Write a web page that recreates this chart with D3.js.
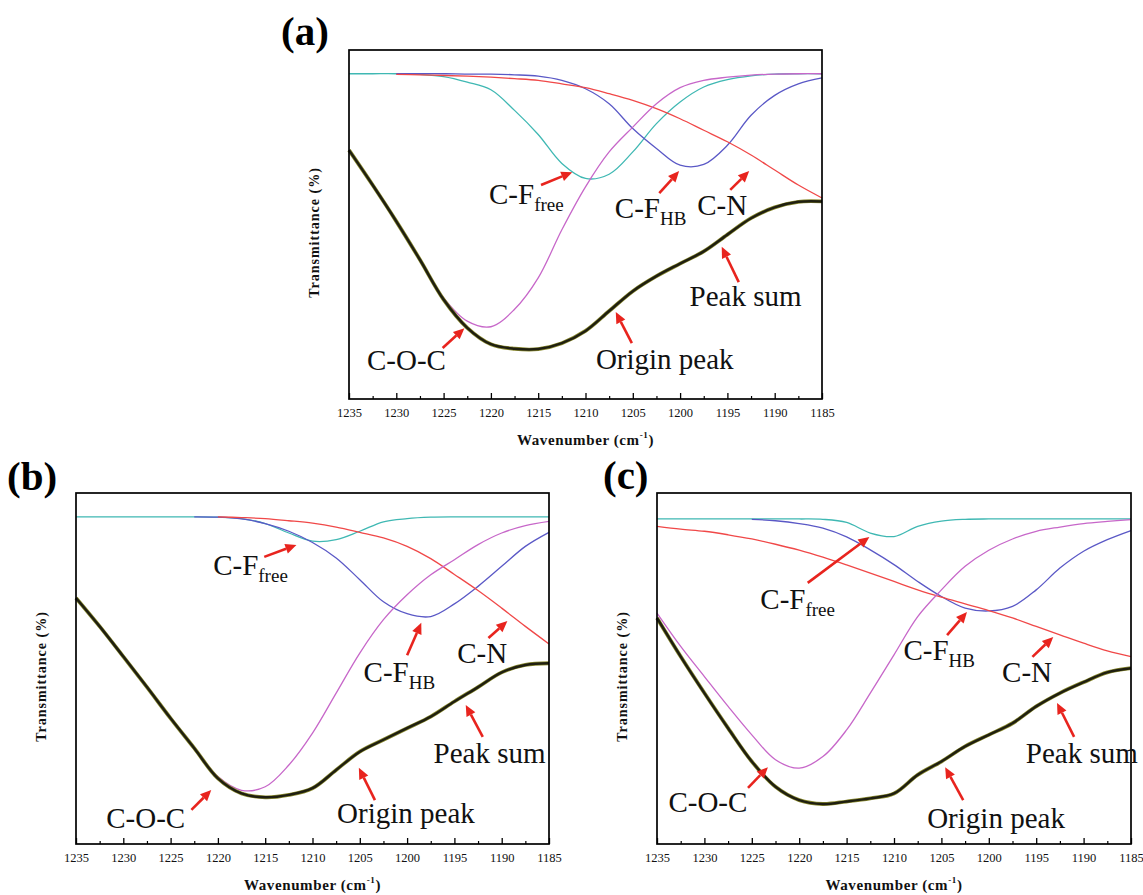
<!DOCTYPE html>
<html><head><meta charset="utf-8">
<script src="https://cdn.jsdelivr.net/npm/d3@7"></script>
<style>
body{margin:0;background:#fff}
svg{display:block}
svg text{font-family:"Liberation Serif","Times New Roman",Times,serif !important;}
</style>
</head><body>
<svg id="chart" width="1143" height="895"></svg>
<script>
// ---------- data ----------
const wavenumbers = [1235,1232.5,1230,1227.5,1225,1222.5,1220,1217.5,1215,1212.5,1210,1207.5,1205,1202.5,1200,1197.5,1195,1192.5,1190,1187.5,1185];
const xTicks = [1235,1230,1225,1220,1215,1210,1205,1200,1195,1190,1185];
const xMinorTicks = [1232.5,1227.5,1222.5,1217.5,1212.5,1207.5,1202.5,1197.5,1192.5,1187.5];
const seriesNames = ["C-F free","C-F HB","C-N","C-O-C","Origin peak"];

// panel (a)
const aCFfree = [93.2,93.2,93.2,93.0,92.4,90.8,88.6,82.7,75.8,67.5,63.2,64.4,70.8,78.9,85.1,89.4,91.5,92.6,93.1,93.2,93.2];
const aCFHB   = [null,null,93.2,93.2,93.2,93.1,93.1,92.9,92.5,91.3,88.9,84.6,77.5,71.8,67.0,67.2,72.7,81.3,87.0,90.3,92.0];
const aCN     = [null,null,93.0,92.9,92.7,92.5,92.2,91.8,91.3,90.3,89.2,87.5,85.6,83.2,80.3,77.0,73.7,69.9,65.6,61.3,57.6];
const aCOC    = [71.3,61.1,50.6,39.7,29.0,22.3,20.7,25.7,34.7,48.5,60.8,70.8,77.9,84.6,89.2,91.3,92.2,92.8,93.1,93.2,93.2];
const aOrigin = [71.3,61.3,50.9,39.9,28.5,20.4,15.7,14.4,14.3,16.0,19.5,25.2,30.9,35.2,38.8,42.3,47.1,51.8,54.9,56.5,56.6];

// panel (b)
const bCFfree = [93.2,93.2,93.2,93.2,93.2,93.2,93.1,92.7,91.3,88.6,86.3,86.7,89.1,91.8,92.7,93.1,93.2,93.2,93.2,93.2,93.2];
const bCFHB   = [null,null,null,null,null,93.2,93.1,92.6,91.3,89.1,85.9,81.5,75.3,69.0,65.6,64.8,68.4,73.4,79.1,84.8,88.8];
const bCN     = [null,null,null,null,null,null,93.2,93.0,92.7,92.1,91.4,90.3,88.8,87.2,84.8,81.3,76.8,72.2,67.2,62.0,57.0];
const bCOC    = [70.0,62.0,53.4,44.7,35.8,27.5,19.2,15.3,16.3,22.5,31.6,43.0,54.4,63.9,71.0,76.7,81.0,85.3,88.6,90.7,91.9];
const bOrigin = [70.1,62.0,53.4,44.7,35.8,27.3,18.7,14.4,13.3,14.0,15.9,21.1,26.3,29.7,33.0,36.3,40.6,44.7,48.9,51.0,51.5];

// panel (c)
const cCFfree = [92.6,92.6,92.6,92.6,92.6,92.6,92.6,92.5,91.6,88.6,87.6,90.5,92.0,92.5,92.6,92.6,92.6,92.6,92.6,92.6,92.6];
const cCFHB   = [null,null,null,null,92.5,92.1,91.3,90.0,87.5,83.8,79.6,74.8,70.5,67.2,66.4,67.7,72.4,78.6,83.4,86.7,89.3];
const cCN     = [90.5,89.7,89.1,88.1,86.9,85.4,83.7,81.7,79.5,77.2,74.8,72.4,70.3,68.4,66.5,64.4,62.0,59.6,57.2,55.0,53.4];
const cCOC    = [65.8,56.3,47.7,39.2,31.1,24.0,21.6,24.9,32.5,43.0,53.9,64.8,72.4,79.1,83.7,86.9,89.1,90.3,91.3,91.9,92.4];
const cOrigin = [64.4,53.4,43.0,33.0,23.5,16.3,12.5,11.4,12.1,13.0,14.4,19.7,23.5,27.8,31.1,34.4,39.2,43.0,46.1,48.9,50.1];

// annotations: text anchor, arrow tail, arrow head in data coordinates [wavenumber, value]
const aNotes = [
  {t:"C-F", s:"free", at:[1220.2,55.9], tail:[1214.7,61.3], head:[1211.4,65.0]},
  {t:"C-F", s:"HB",   at:[1206.9,51.9], tail:[1202.2,59.0], head:[1200.1,65.3]},
  {t:"C-N", s:"",     at:[1198.2,52.7], tail:[1194.7,59.9], head:[1192.7,65.3]},
  {t:"Peak sum", s:"", at:[1199.0,26.6], tail:[1193.8,33.5], head:[1195.6,43.6]},
  {t:"Origin peak", s:"", at:[1208.9,8.6], tail:[1205.1,16.0], head:[1206.8,24.9]},
  {t:"C-O-C", s:"",   at:[1233.1,8.3], tail:[1225.1,14.6], head:[1222.8,20.3]}
];
const bNotes = [
  {t:"C-F", s:"free", at:[1220.5,76.6], tail:[1215.1,81.8], head:[1211.7,85.2]},
  {t:"C-F", s:"HB",   at:[1204.6,46.2], tail:[1200.0,53.8], head:[1198.5,63.0]},
  {t:"C-N", s:"",     at:[1194.7,51.6], tail:[1191.4,58.7], head:[1189.4,63.5]},
  {t:"Peak sum", s:"", at:[1197.2,23.1], tail:[1192.0,30.5], head:[1193.8,39.6]},
  {t:"Origin peak", s:"", at:[1207.4,6.0], tail:[1203.4,12.5], head:[1205.1,21.7]},
  {t:"C-O-C", s:"",   at:[1231.8,4.6], tail:[1222.8,9.7], head:[1220.7,15.4]}
];
const cNotes = [
  {t:"C-F", s:"free", at:[1224.1,67.0], tail:[1219.1,74.4], head:[1212.6,87.5]},
  {t:"C-F", s:"HB",   at:[1209.0,52.4], tail:[1204.4,59.5], head:[1202.3,66.1]},
  {t:"C-N", s:"",     at:[1198.6,46.2], tail:[1195.4,53.3], head:[1193.2,59.0]},
  {t:"Peak sum", s:"", at:[1196.1,23.1], tail:[1191.0,30.5], head:[1192.8,40.2]},
  {t:"Origin peak", s:"", at:[1206.5,4.6], tail:[1202.7,12.5], head:[1204.6,21.9]},
  {t:"C-O-C", s:"",   at:[1233.8,9.1], tail:[1225.4,16.0], head:[1223.3,21.9]}
];

// ---------- layout / style ----------
const FONT = '"Liberation Serif","Times New Roman",Times,serif';
const colors = {free:"#3fb8b3", hb:"#5a58c6", cn:"#f04848", coc:"#c767c9", origin:"#1f1f10", sum:"#8a8a30", arrow:"#e8241e"};

const panels = [
  {label:"(a)", labelPos:[281,45], box:{x:349,y:50,w:473,h:349},
   data:{free:aCFfree, hb:aCFHB, cn:aCN, coc:aCOC, origin:aOrigin}, notes:aNotes},
  {label:"(b)", labelPos:[7,490], box:{x:76,y:493,w:473,h:351},
   data:{free:bCFfree, hb:bCFHB, cn:bCN, coc:bCOC, origin:bOrigin}, notes:bNotes},
  {label:"(c)", labelPos:[603,489], box:{x:657,y:493,w:474,h:351},
   data:{free:cCFfree, hb:cCFHB, cn:cCN, coc:cCOC, origin:cOrigin}, notes:cNotes}
];

const svg = d3.select("#chart");

panels.forEach(p => {
  const b = p.box;
  const x = d3.scaleLinear().domain([1235,1185]).range([b.x, b.x + b.w]);
  const y = d3.scaleLinear().domain([0,100]).range([b.y + b.h, b.y]);
  const g = svg.append("g").style("font-family", FONT);

  // panel label
  g.append("text").attr("x", p.labelPos[0]).attr("y", p.labelPos[1])
    .style("font-family", FONT).attr("font-weight", "bold").attr("font-size", 41)
    .text(p.label);

  // curves
  const line = d3.line()
    .defined(d => d[1] !== null)
    .x(d => x(d[0])).y(d => y(d[1]))
    .curve(d3.curveCatmullRom.alpha(0.5));
  const pts = arr => wavenumbers.map((w,i) => [w, arr[i]]);

  ["free","hb","cn","coc"].forEach(k => {
    g.append("path").attr("d", line(pts(p.data[k])))
      .attr("fill","none").attr("stroke", colors[k]).attr("stroke-width", 1.3);
  });
  g.append("path").attr("d", line(pts(p.data.origin)))
    .attr("fill","none").attr("stroke", colors.sum).attr("stroke-width", 3.8);
  g.append("path").attr("d", line(pts(p.data.origin)))
    .attr("fill","none").attr("stroke", colors.origin).attr("stroke-width", 2.5);

  // frame
  g.append("rect").attr("x", b.x).attr("y", b.y).attr("width", b.w).attr("height", b.h)
    .attr("fill","none").attr("stroke","#000").attr("stroke-width",1.7);

  // bottom axis (ticks inward)
  const ax = g.append("g").attr("transform", `translate(0,${b.y + b.h})`)
    .call(d3.axisBottom(x).tickValues(xTicks).tickFormat(d3.format("d"))
      .tickSizeInner(-6).tickSizeOuter(0).tickPadding(9));
  ax.attr("font-family", null).attr("font-size", null);
  ax.select(".domain").remove();
  ax.selectAll(".tick line").attr("stroke","#000").attr("stroke-width",1.3);
  ax.selectAll("text").style("font-family", FONT).attr("font-size", 12.5).attr("fill","#111");
  const axm = g.append("g").attr("transform", `translate(0,${b.y + b.h})`)
    .call(d3.axisBottom(x).tickValues(xMinorTicks).tickFormat("").tickSizeInner(-3).tickSizeOuter(0));
  axm.select(".domain").remove();
  axm.selectAll(".tick line").attr("stroke","#000").attr("stroke-width",1.2);

  // x title
  const xt = g.append("text").attr("x", b.x + b.w/2).attr("y", b.y + b.h + 46)
    .attr("text-anchor","middle").style("font-family", FONT).attr("font-weight","bold")
    .attr("font-size", 15).attr("letter-spacing", 0.6).attr("fill","#111");
  xt.append("tspan").text("Wavenumber (cm");
  xt.append("tspan").attr("font-size", 9).attr("dy", -7).text("-1");
  xt.append("tspan").attr("dy", 7).text(")");

  // y title
  g.append("text")
    .attr("transform", `translate(${b.x - 30},${b.y + b.h/2 + 8}) rotate(-90)`)
    .attr("text-anchor","middle").style("font-family", FONT).attr("font-weight","bold")
    .attr("font-size", 14).attr("letter-spacing", 1).attr("fill","#111")
    .text("Transmittance (%)");

  // annotations
  p.notes.forEach(n => {
    const t = g.append("text").attr("x", x(n.at[0])).attr("y", y(n.at[1]))
      .style("font-family", FONT).attr("font-size", 29).attr("fill","#111");
    t.append("tspan").text(n.t);
    if (n.s) t.append("tspan").attr("font-size", 19).attr("dy", 7).text(n.s);

    const x1 = x(n.tail[0]), y1 = y(n.tail[1]), x2 = x(n.head[0]), y2 = y(n.head[1]);
    const ang = Math.atan2(y2 - y1, x2 - x1);
    const L = 11, W = 5;
    const bx = x2 - L*Math.cos(ang), by = y2 - L*Math.sin(ang);
    g.append("line").attr("x1", x1).attr("y1", y1).attr("x2", bx).attr("y2", by)
      .attr("stroke", colors.arrow).attr("stroke-width", 2.6);
    g.append("path")
      .attr("d", `M${x2},${y2}L${bx + W*Math.sin(ang)},${by - W*Math.cos(ang)}L${bx - W*Math.sin(ang)},${by + W*Math.cos(ang)}Z`)
      .attr("fill", colors.arrow);
  });
});
</script>
</body></html>
